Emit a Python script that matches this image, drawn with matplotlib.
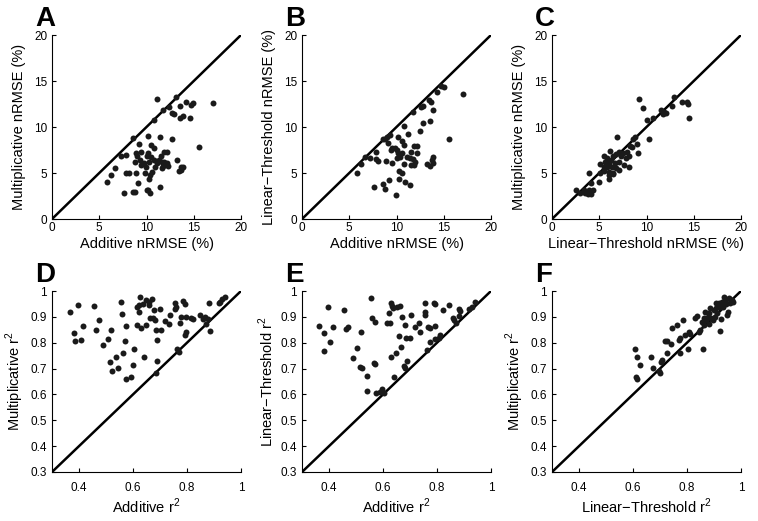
import matplotlib.pyplot as plt

plt.rcParams['font.family'] = ['Liberation Sans', 'DejaVu Sans']

# Panel A: Additive vs Multiplicative nRMSE (%)
a_x = [11.1, 13.1, 14.2, 14.9, 14.7, 17.0, 13.5, 12.4, 11.7, 12.7, 12.9, 13.9, 13.5, 14.6, 10.8,
       8.6, 10.2, 11.4, 12.7, 15.6, 9.2, 10.5, 10.75, 7.3, 7.8, 8.9, 9.4, 10.2, 11.8, 12.2,
       9.0, 10.0, 10.5, 9.3, 8.8, 9.7, 10.3, 10.8, 11.3, 11.6, 11.9, 12.2, 11.1, 13.2, 9.9,
       9.4, 10.9, 11.6, 11.7, 12.3, 13.7, 13.9, 13.6, 13.4, 6.7, 6.2, 7.8, 8.1, 8.9, 9.8,
       10.6, 10.4, 10.3, 5.8, 9.1, 11.4, 10.0, 10.2, 8.6, 8.8, 7.6, 10.4, 11.5]
a_y = [13.0, 13.3, 12.75, 12.6, 12.4, 12.6, 12.3, 12.2, 11.85, 11.55, 11.4, 11.2, 10.95, 10.95, 10.8,
       8.85, 9.0, 8.95, 8.65, 7.8, 8.15, 8.05, 7.75, 6.9, 7.0, 7.15, 7.3, 7.15, 7.3, 7.25,
       6.8, 6.85, 6.7, 6.4, 6.2, 6.05, 6.25, 6.4, 6.4, 6.25, 6.25, 6.05, 6.05, 6.4, 5.7,
       5.85, 5.7, 5.5, 5.75, 5.75, 5.6, 5.7, 5.3, 5.2, 5.5, 4.8, 5.05, 4.95, 5.05, 5.05,
       5.15, 4.8, 4.4, 4.0, 3.95, 3.5, 3.15, 3.2, 2.9, 2.9, 2.8, 2.8, 6.8]

# Panel B: Additive vs Linear-Threshold nRMSE (%)
b_x = [14.7, 15.0, 14.3, 13.4, 13.6, 12.8, 12.6, 13.9, 11.7, 12.8, 13.5, 12.5, 11.2, 10.8, 10.2,
       9.3, 9.0, 8.8, 8.6, 9.1, 15.6, 10.6, 10.75, 11.9, 12.2, 9.5, 9.8, 9.4, 10.05, 10.2,
       10.6, 11.5, 12.2, 7.8, 7.2, 6.7, 7.8, 8.0, 8.9, 9.5, 10.05, 10.4, 11.1, 11.4, 11.7,
       10.8, 11.5, 11.8, 12.0, 13.2, 13.5, 13.9, 13.9, 13.75, 6.2, 5.8, 10.3, 10.6, 9.2, 10.3,
       10.9, 11.4, 7.6, 8.6, 8.8, 9.9, 17.0]
b_y = [14.45, 14.4, 13.85, 12.95, 12.75, 12.3, 12.15, 11.85, 11.6, 10.4, 10.65, 9.55, 9.2, 10.15, 8.95,
       9.15, 8.95, 8.75, 8.65, 8.3, 8.7, 8.45, 8.05, 7.95, 7.95, 7.7, 7.75, 7.45, 7.5, 7.15,
       7.15, 7.3, 7.15, 7.3, 6.6, 6.75, 6.5, 6.35, 6.3, 6.1, 6.6, 6.75, 6.75, 6.6, 6.5,
       5.95, 5.85, 5.85, 6.25, 6.0, 5.8, 6.05, 6.7, 6.4, 6.0, 5.05, 5.25, 5.05, 4.25, 4.35,
       4.0, 3.7, 3.5, 3.8, 3.25, 2.6, 13.6]

# Panel C: Linear-Threshold vs Multiplicative nRMSE (%)
c_x = [9.2, 9.6, 12.9, 13.75, 14.3, 14.35, 12.7, 11.5, 11.8, 12.05, 11.75, 14.5, 10.7, 10.05, 10.3,
       6.9, 8.8, 8.6, 9.0, 8.3, 8.5, 9.1, 7.9, 7.5, 7.05, 6.8, 6.1, 6.5, 7.3, 7.8,
       8.2, 5.5, 5.8, 6.2, 5.6, 6.0, 6.7, 7.1, 7.65, 8.1, 5.1, 5.5, 5.8, 6.35, 6.8,
       7.05, 5.55, 6.0, 6.5, 5.1, 6.05, 6.45, 6.0, 3.9, 5.0, 4.1, 2.5, 3.35, 3.9, 4.3,
       2.95, 3.5, 3.8, 4.1]
c_y = [13.0, 12.1, 13.3, 12.75, 12.75, 12.5, 12.3, 11.85, 11.6, 11.55, 11.4, 10.95, 10.95, 10.75, 8.65,
       8.95, 8.95, 8.65, 8.2, 7.95, 7.85, 7.2, 7.3, 7.15, 7.3, 7.05, 7.4, 6.85, 6.8, 6.6,
       6.8, 6.8, 6.6, 6.4, 6.25, 6.05, 6.05, 6.25, 5.85, 5.7, 6.0, 5.7, 5.7, 5.7, 5.5,
       5.3, 5.25, 5.15, 5.05, 5.05, 4.8, 4.9, 4.4, 4.95, 4.0, 3.95, 3.15, 3.1, 3.15, 3.2,
       2.85, 2.85, 2.7, 2.7]

# Panel D: Additive vs Multiplicative r^2
d_x = [0.365, 0.395, 0.383, 0.387, 0.407, 0.415, 0.454, 0.473, 0.463, 0.489, 0.506, 0.52, 0.516, 0.523,
       0.538, 0.543, 0.557, 0.559, 0.563, 0.57, 0.574, 0.574, 0.593, 0.599, 0.602, 0.615, 0.615, 0.621,
       0.625, 0.621, 0.631, 0.637, 0.642, 0.648, 0.648, 0.658, 0.66, 0.664, 0.67, 0.674, 0.677, 0.683,
       0.685, 0.689, 0.689, 0.686, 0.701, 0.704, 0.72, 0.732, 0.738, 0.757, 0.759, 0.757, 0.763, 0.769,
       0.773, 0.778, 0.785, 0.791, 0.791, 0.798, 0.796, 0.816, 0.822, 0.847, 0.859, 0.868, 0.876, 0.872,
       0.88, 0.886, 0.917, 0.923, 0.93, 0.94]
d_y = [0.92, 0.946, 0.839, 0.807, 0.811, 0.866, 0.943, 0.888, 0.849, 0.792, 0.815, 0.849, 0.725, 0.689,
       0.746, 0.701, 0.956, 0.911, 0.759, 0.807, 0.866, 0.66, 0.667, 0.714, 0.775, 0.869, 0.94, 0.946,
       0.978, 0.92, 0.856, 0.949, 0.743, 0.965, 0.869, 0.959, 0.946, 0.897, 0.968, 0.894, 0.927, 0.888,
       0.849, 0.811, 0.73, 0.682, 0.929, 0.849, 0.885, 0.871, 0.907, 0.955, 0.94, 0.93, 0.775, 0.766,
       0.875, 0.901, 0.963, 0.949, 0.83, 0.843, 0.901, 0.897, 0.891, 0.907, 0.892, 0.901, 0.891, 0.871,
       0.952, 0.847, 0.952, 0.959, 0.968, 0.976]

# Panel E: Additive vs Linear-Threshold r^2
e_x = [0.364, 0.38, 0.383, 0.395, 0.405, 0.415, 0.454, 0.463, 0.47, 0.488, 0.504, 0.519, 0.516, 0.523,
       0.541, 0.541, 0.556, 0.559, 0.572, 0.565, 0.57, 0.574, 0.59, 0.596, 0.602, 0.615, 0.621, 0.625,
       0.63, 0.633, 0.631, 0.637, 0.64, 0.648, 0.652, 0.66, 0.664, 0.668, 0.67, 0.677, 0.683, 0.68,
       0.686, 0.689, 0.701, 0.704, 0.717, 0.735, 0.736, 0.757, 0.757, 0.757, 0.763, 0.765, 0.773, 0.775,
       0.788, 0.791, 0.791, 0.794, 0.806, 0.812, 0.821, 0.846, 0.859, 0.864, 0.872, 0.88, 0.88, 0.886,
       0.917, 0.93, 0.94]
e_y = [0.866, 0.839, 0.768, 0.94, 0.804, 0.862, 0.927, 0.852, 0.862, 0.74, 0.779, 0.843, 0.705, 0.701,
       0.672, 0.614, 0.972, 0.897, 0.882, 0.72, 0.717, 0.607, 0.611, 0.62, 0.605, 0.875, 0.914, 0.875,
       0.952, 0.942, 0.746, 0.933, 0.667, 0.762, 0.94, 0.826, 0.942, 0.785, 0.9, 0.71, 0.701, 0.869,
       0.817, 0.731, 0.817, 0.909, 0.859, 0.878, 0.84, 0.952, 0.918, 0.907, 0.772, 0.862, 0.804, 0.856,
       0.955, 0.949, 0.813, 0.865, 0.817, 0.83, 0.927, 0.946, 0.894, 0.888, 0.875, 0.903, 0.929, 0.923,
       0.93, 0.94, 0.956]

# Panel F: Linear-Threshold vs Multiplicative r^2
f_x = [0.609, 0.615, 0.612, 0.615, 0.625, 0.668, 0.674, 0.698, 0.701, 0.705, 0.709, 0.72, 0.726, 0.726,
       0.741, 0.744, 0.763, 0.77, 0.775, 0.775, 0.784, 0.794, 0.802, 0.809, 0.812, 0.828, 0.837, 0.843,
       0.849, 0.855, 0.859, 0.862, 0.864, 0.868, 0.872, 0.877, 0.88, 0.883, 0.889, 0.895, 0.899, 0.903,
       0.909, 0.911, 0.917, 0.921, 0.923, 0.926, 0.93, 0.933, 0.938, 0.942, 0.946, 0.948, 0.952, 0.954,
       0.96, 0.967, 0.97, 0.906, 0.886]
f_y = [0.775, 0.746, 0.667, 0.659, 0.714, 0.743, 0.701, 0.689, 0.682, 0.727, 0.733, 0.808, 0.807, 0.762,
       0.794, 0.856, 0.869, 0.811, 0.817, 0.762, 0.888, 0.83, 0.775, 0.843, 0.834, 0.894, 0.905, 0.843,
       0.849, 0.882, 0.775, 0.869, 0.894, 0.92, 0.888, 0.901, 0.871, 0.914, 0.894, 0.888, 0.927, 0.901,
       0.933, 0.914, 0.952, 0.94, 0.847, 0.891, 0.959, 0.94, 0.978, 0.965, 0.95, 0.907, 0.92, 0.974,
       0.955, 0.965, 0.959, 0.952, 0.933]

r2 = r'$^\mathregular{2}$'
panels = [
    ('A', a_x, a_y, 'Additive nRMSE (%)', 'Multiplicative nRMSE (%)', 'rmse'),
    ('B', b_x, b_y, 'Additive nRMSE (%)', 'Linear\u2212Threshold nRMSE (%)', 'rmse'),
    ('C', c_x, c_y, 'Linear\u2212Threshold nRMSE (%)', 'Multiplicative nRMSE (%)', 'rmse'),
    ('D', d_x, d_y, 'Additive r' + r2, 'Multiplicative r' + r2, 'r2'),
    ('E', e_x, e_y, 'Additive r' + r2, 'Linear\u2212Threshold r' + r2, 'r2'),
    ('F', f_x, f_y, 'Linear\u2212Threshold r' + r2, 'Multiplicative r' + r2, 'r2'),
]

fig = plt.figure(figsize=(7.58, 5.21), dpi=100)
W, H = 758, 521

for i, (letter, xs, ys, xl, yl, kind) in enumerate(panels):
    col, row = i % 3, i // 3
    left = 52 + 250 * col
    if row == 0:
        top, bottom = 35, 219
    else:
        top, bottom = 291, 472
    ax = fig.add_axes([left / W, 1 - bottom / H, 189 / W, (bottom - top) / H])

    if kind == 'rmse':
        lo, hi = 0, 20
        ax.set_xticks([0, 5, 10, 15, 20])
        ax.set_yticks([0, 5, 10, 15, 20])
        xpad = 2
    else:
        lo, hi = 0.3, 1
        ax.set_xticks([0.4, 0.6, 0.8, 1.0])
        ax.set_xticklabels(['0.4', '0.6', '0.8', '1'])
        ax.set_yticks([0.3, 0.4, 0.5, 0.6, 0.7, 0.8, 0.9, 1.0])
        ax.set_yticklabels(['0.3', '0.4', '0.5', '0.6', '0.7', '0.8', '0.9', '1'])
        xpad = 7

    ax.plot([lo, hi], [lo, hi], color='black', lw=1.8, zorder=2)
    ax.plot(xs, ys, 'o', color='#1a1a1a', markersize=4.3, markeredgewidth=0, zorder=3)
    ax.set_xlim(lo, hi)
    ax.set_ylim(lo, hi)

    for s in ['top', 'right']:
        ax.spines[s].set_visible(False)
    for s in ['left', 'bottom']:
        ax.spines[s].set_linewidth(0.8)
    ax.tick_params(direction='in', length=3, width=0.8, labelsize=8.5)
    ax.tick_params(axis='x', pad=xpad)
    ax.tick_params(axis='y', pad=3.5)
    ax.set_xlabel(xl, fontsize=10.5, labelpad=2)
    ax.set_ylabel(yl, fontsize=10.5)
    ax.yaxis.set_label_coords(-0.14, 0.5)

    fig.text((left - 17) / W, 1 - (top - 9) / H, letter, fontsize=20,
             fontweight='bold', ha='left', va='baseline')

fig.savefig('out.png', dpi=100)
